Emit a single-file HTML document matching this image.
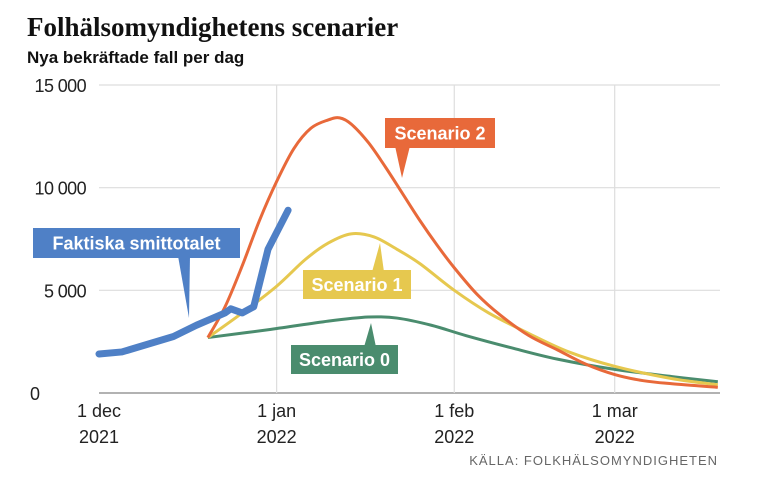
<!DOCTYPE html>
<html><head><meta charset="utf-8"><style>
body{margin:0;background:#fff;width:759px;height:481px;overflow:hidden}
</style></head><body>
<svg width="759" height="481" font-family="Liberation Sans, sans-serif">
<text x="27" y="36" font-family="Liberation Serif, serif" font-weight="bold" font-size="27" fill="#111">Folhälsomyndighetens scenarier</text>
<text x="27" y="63" font-weight="bold" font-size="17" fill="#111">Nya bekräftade fall per dag</text>
<g id="grid"></g><g id="lines"></g><g id="labels"></g>
<text x="718" y="465" text-anchor="end" font-size="13" letter-spacing="1" fill="#666">KÄLLA: FOLKHÄLSOMYNDIGHETEN</text>
</svg>
<script>
const yTicks=[0,5000,10000,15000];
const yTickLabels=["0","5 000","10 000","15 000"];
const xTickDays=[0,31,62,90];
const xTickLabels=[["1 dec","2021"],["1 jan","2022"],["1 feb","2022"],["1 mar","2022"]];
const actualDays=[0,4,13,17,22,23,25,27,29.5,33];
const actualVals=[1900,2000,2750,3300,3900,4100,3900,4200,7000,8900];
const s2Days=[19,22,25,28,31,34,37,40,42,44,47,50,53,56,59,62,66,70,75,80,85,90,95,100,108];
const s2Vals=[2700,4200,6200,8400,10300,11900,12900,13300,13400,13100,12200,11000,9700,8400,7200,6100,4800,3800,2800,2100,1400,900,600,450,280];
const s1Days=[19,25,31,36,40,44,48,52,56,62,68,75,82,90,100,108];
const s1Vals=[2700,3900,5200,6500,7300,7750,7600,7000,6300,5000,3900,2900,2000,1300,700,400];
const s0Days=[19,30,40,47,52,58,64,72,80,90,100,108];
const s0Vals=[2700,3100,3500,3700,3650,3300,2800,2200,1650,1150,800,550];
const X=d=>99+d*5.73, Y=v=>393-v*(308/15000);
const NS="http://www.w3.org/2000/svg";
function mk(t,a,p){const e=document.createElementNS(NS,t);for(const k in a)e.setAttribute(k,a[k]);p.appendChild(e);return e;}
const grid=document.getElementById('grid');
yTicks.forEach((v,i)=>{
 const l=mk('line',{x1:99,x2:720,y1:Y(v),y2:Y(v),stroke:i==0?'#999':'#ddd','stroke-width':i==0?1.5:1.2},grid);
 
 
 const t=mk('text',{x:v==0?30:86,y:Y(v)+7,'text-anchor':v==0?'start':'end','font-size':18,'letter-spacing':-0.6,fill:'#222'},grid);t.textContent=yTickLabels[i];
 
 
});
xTickDays.forEach((d,i)=>{
 if(i>0){const l=mk('line',{x1:X(d),x2:X(d),y1:Y(15000),y2:393,stroke:'#ddd','stroke-width':1.2},grid);
 
 }
 xTickLabels[i].forEach((s,j)=>{const t=mk('text',{x:X(d),y:417+j*26,'text-anchor':'middle','font-size':18,fill:'#222'},grid);t.textContent=s;
 
 });
});
function path(ds,vs,smooth){const p=ds.map((d,i)=>[X(d),Y(vs[i])]);let s='M'+p[0];
 for(let i=0;i<p.length-1;i++){if(!smooth){s+='L'+p[i+1];continue;}
 const a=p[i-1]||p[i],b=p[i],c=p[i+1],e=p[i+2]||c;
 s+='C'+(b[0]+(c[0]-a[0])/6)+','+(b[1]+(c[1]-a[1])/6)+' '+(c[0]-(e[0]-b[0])/6)+','+(c[1]-(e[1]-b[1])/6)+' '+c;}return s;}
const lines=document.getElementById('lines');
let e;
e=mk('path',{d:path(s0Days,s0Vals,1),fill:'none',stroke:'#4a8c6e','stroke-width':3},lines);


e=mk('path',{d:path(s1Days,s1Vals,1),fill:'none',stroke:'#e6c84f','stroke-width':3},lines);


e=mk('path',{d:path(s2Days,s2Vals,1),fill:'none',stroke:'#e8693a','stroke-width':3},lines);


e=mk('path',{d:path(actualDays,actualVals,0),fill:'none',stroke:'#4f80c6','stroke-width':7,'stroke-linecap':'round','stroke-linejoin':'round'},lines);


const lab=document.getElementById('labels');
function callout(name,x,y,w,h,col,txt,pts){const g=mk('g',{},lab);
 
 
 mk('polygon',{points:pts,fill:col},g);mk('rect',{x:x,y:y,width:w,height:h,fill:col},g);
 const t=mk('text',{x:x+w/2,y:y+h/2+6.5,'text-anchor':'middle','font-size':18,'font-weight':'bold',fill:'#fff'},g);t.textContent=txt;}
callout('scenario-2-label',385,118,110,30,'#e8693a','Scenario 2','395,146 410,146 402,178');
callout('scenario-1-label',303,270,108,29,'#e6c84f','Scenario 1','372,272 384,272 380,243');
callout('scenario-0-label',291,345,107,29,'#4a8c6e','Scenario 0','364,347 376,347 371,323');
callout('actual-cases-label',33,228,207,30,'#4f80c6','Faktiska smittotalet','178,256 190,256 189,318');
</script>
</body></html>
